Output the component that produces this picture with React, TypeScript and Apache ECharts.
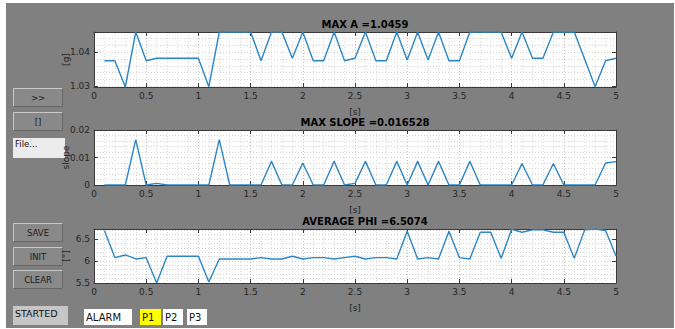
import React, { useEffect, useRef } from 'react';
import * as echarts from 'echarts';

// ---------- data ----------
const TIME = [
  0.1, 0.2, 0.3, 0.4, 0.5, 0.6, 0.7, 0.8, 0.9, 1.0,
  1.1, 1.2, 1.3, 1.4, 1.5, 1.6, 1.7, 1.8, 1.9, 2.0,
  2.1, 2.2, 2.3, 2.4, 2.5, 2.6, 2.7, 2.8, 2.9, 3.0,
  3.1, 3.2, 3.3, 3.4, 3.5, 3.6, 3.7, 3.8, 3.9, 4.0,
  4.1, 4.2, 4.3, 4.4, 4.5, 4.6, 4.7, 4.8, 4.9, 5.0,
];

const MAX_A = [
  1.0375, 1.0375, 1.0298, 1.0459, 1.0375, 1.0382, 1.0382, 1.0382, 1.0382, 1.0382,
  1.0299, 1.0459, 1.0459, 1.0459, 1.0459, 1.0375, 1.0459, 1.0459, 1.0382, 1.0459,
  1.0375, 1.0375, 1.0459, 1.0375, 1.0382, 1.0459, 1.0375, 1.0375, 1.0459, 1.0377,
  1.0459, 1.0377, 1.0459, 1.0375, 1.0375, 1.0459, 1.0459, 1.0459, 1.0459, 1.0382,
  1.0459, 1.0382, 1.0382, 1.0459, 1.0459, 1.0459, 1.0379, 1.0299, 1.0375, 1.0382,
];

const SLOPE = [
  0, 0, 0, 0.016528, 0, 0.0006, 0, 0, 0, 0,
  0, 0.0165, 0, 0, 0, 0, 0.0086, 0, 0, 0.0080,
  0, 0, 0.0086, 0, 0.0006, 0.0086, 0, 0, 0.0086, 0,
  0.0086, 0, 0.0086, 0, 0, 0.0086, 0, 0, 0, 0,
  0.0078, 0, 0, 0.0078, 0, 0, 0, 0, 0.0080, 0.0085,
];

const PHI = [
  6.695, 6.076, 6.137, 6.046, 6.076, 5.497, 6.107, 6.107, 6.107, 6.107,
  5.52, 6.046, 6.046, 6.046, 6.046, 6.076, 6.046, 6.046, 6.107, 6.046,
  6.076, 6.076, 6.046, 6.076, 6.107, 6.046, 6.076, 6.076, 6.046, 6.68,
  6.046, 6.076, 6.046, 6.68, 6.076, 6.046, 6.656, 6.656, 6.06, 6.72,
  6.656, 6.71, 6.71, 6.656, 6.656, 6.06, 6.71, 6.73, 6.695, 6.115,
];

const X_LIMITS = [0, 5];
const X_STEP = 0.5;
const A_TICKS = [1.03, 1.04];
const SLOPE_TICKS = [0, 0.01, 0.02];
const SLOPE_LIMITS = [0, 0.02];
const PHI_TICKS = [5.5, 6, 6.5];

const TITLES = ['MAX A =1.0459', 'MAX SLOPE =0.016528', 'AVERAGE PHI =6.5074'];
const Y_NAMES = ['[g]', 'slope', '[°]'];
const X_NAME = '[s]';

const SIDE_BUTTONS = ['>>', '[]', 'SAVE', 'INIT', 'CLEAR'];
const FILE_LABEL = 'File...';
const STATUS_LABEL = 'STARTED';
const FLAGS = ['ALARM', 'P1', 'P2', 'P3'];

// ---------- layout / style ----------
const FONT = 'DejaVu Sans';
const AXIS_COLOR = '#3a3a3a';
const TEXT_COLOR = '#262626';
const LINE_COLOR = '#2d86c4';
const GRID_LEFT = 94;
const GRID_WIDTH = 522;
const PANEL_LAYOUT = [
  { top: 32, height: 55 },
  { top: 130, height: 55 },
  { top: 229, height: 54 },
];
const BUTTON_POS = [
  { x: 13, y: 88 }, { x: 13, y: 112 }, { x: 13, y: 223 }, { x: 13, y: 247 }, { x: 13, y: 270 },
];
const FLAG_LAYOUT = [
  { x: 84, w: 48, fill: '#ffffff' },
  { x: 140, w: 21, fill: '#ffff00' },
  { x: 163, w: 20, fill: '#ffffff' },
  { x: 187, w: 20, fill: '#ffffff' },
];

function button(label: string, x: number, y: number, w: number, h: number) {
  return {
    type: 'group',
    x,
    y,
    children: [
      { type: 'rect', shape: { x: 0, y: 0, width: w, height: h }, style: { fill: '#898989' } },
      {
        type: 'polyline',
        shape: { points: [[0.5, h - 0.5], [0.5, 0.5], [w - 0.5, 0.5]] },
        style: { stroke: '#c8c8c8', lineWidth: 1, fill: null },
      },
      {
        type: 'polyline',
        shape: { points: [[0.5, h - 0.5], [w - 0.5, h - 0.5], [w - 0.5, 0.5]] },
        style: { stroke: '#666666', lineWidth: 1, fill: null },
      },
      {
        type: 'text',
        x: w / 2,
        y: h / 2,
        style: {
          text: label, align: 'center', verticalAlign: 'middle',
          fill: '#1a1a1a', fontSize: 8.5, fontFamily: FONT,
        },
      },
    ],
  };
}

function box(label: string, x: number, y: number, w: number, h: number, fill: string, fontSize: number, textY: number) {
  return {
    type: 'group',
    x,
    y,
    children: [
      { type: 'rect', shape: { x: 0, y: 0, width: w, height: h }, style: { fill } },
      {
        type: 'text',
        x: 2,
        y: textY,
        style: {
          text: label, align: 'left', verticalAlign: 'middle',
          fill: '#111111', fontSize, fontFamily: FONT,
        },
      },
    ],
  };
}

export default function App() {
  const ref = useRef<HTMLDivElement>(null);

  useEffect(() => {
    if (!ref.current) return;
    const chart = echarts.init(ref.current, undefined, { renderer: 'svg' });

    const panels = [
      {
        values: MAX_A, min: Math.min(...MAX_A), max: Math.max(...MAX_A),
        ticks: A_TICKS, gridSplit: 8,
      },
      {
        values: SLOPE, min: SLOPE_LIMITS[0], max: SLOPE_LIMITS[1],
        ticks: SLOPE_TICKS, gridSplit: 10,
      },
      {
        values: PHI, min: Math.min(...PHI), max: Math.max(...PHI),
        ticks: PHI_TICKS, gridSplit: 10,
      },
    ];

    const grids: any[] = [];
    const xAxes: any[] = [];
    const yAxes: any[] = [];
    const series: any[] = [];
    const graphics: any[] = [];

    panels.forEach((p, i) => {
      const lay = PANEL_LAYOUT[i];
      grids.push({
        left: GRID_LEFT, top: lay.top, width: GRID_WIDTH, height: lay.height,
        show: true, backgroundColor: '#ffffff', borderWidth: 0, containLabel: false,
      });
      // bottom x axis (data)
      xAxes.push({
        type: 'value', gridIndex: i, position: 'bottom',
        min: X_LIMITS[0], max: X_LIMITS[1], interval: X_STEP,
        name: X_NAME, nameLocation: 'middle', nameGap: 20, nameMoveOverlap: false,
        nameTextStyle: { color: TEXT_COLOR, fontSize: 9, fontFamily: FONT },
        axisLine: { show: true, onZero: false, lineStyle: { color: AXIS_COLOR, width: 1 } },
        axisTick: { show: true, inside: true, length: 4, lineStyle: { color: AXIS_COLOR } },
        axisLabel: { show: true, margin: 4, color: TEXT_COLOR, fontSize: 9, fontFamily: FONT },
        splitLine: { show: true, lineStyle: { color: '#c4c4c4', type: [1, 2], width: 1 } },
        minorTick: { show: false, splitNumber: 5 },
        minorSplitLine: { show: true, lineStyle: { color: '#dcdcdc', type: [1, 2], width: 1 } },
      });
      // top x axis (box + ticks)
      xAxes.push({
        type: 'value', gridIndex: i, position: 'top',
        min: X_LIMITS[0], max: X_LIMITS[1], interval: X_STEP,
        axisLine: { show: true, onZero: false, lineStyle: { color: AXIS_COLOR, width: 1 } },
        axisTick: { show: true, inside: true, length: 4, lineStyle: { color: AXIS_COLOR } },
        axisLabel: { show: false },
        splitLine: { show: false },
      });
      // left y axis (data)
      yAxes.push({
        type: 'value', gridIndex: i, position: 'left',
        min: p.min, max: p.max,
        name: Y_NAMES[i], nameLocation: 'middle', nameRotate: 90, nameGap: 24, nameMoveOverlap: false,
        nameTextStyle: { color: TEXT_COLOR, fontSize: 9, fontFamily: FONT },
        axisLine: { show: true, onZero: false, lineStyle: { color: AXIS_COLOR, width: 1 } },
        axisTick: { show: true, inside: true, length: 4, customValues: p.ticks, lineStyle: { color: AXIS_COLOR } },
        axisLabel: { show: true, margin: 4, customValues: p.ticks, color: TEXT_COLOR, fontSize: 9, fontFamily: FONT },
        splitLine: { show: false },
      });
      // right y axis (box + ticks)
      yAxes.push({
        type: 'value', gridIndex: i, position: 'right',
        min: p.min, max: p.max,
        axisLine: { show: true, onZero: false, lineStyle: { color: AXIS_COLOR, width: 1 } },
        axisTick: { show: true, inside: true, length: 4, customValues: p.ticks, lineStyle: { color: AXIS_COLOR } },
        axisLabel: { show: false },
        splitLine: { show: false },
      });
      // grid-line y axis (dotted minor grid)
      yAxes.push({
        type: 'value', gridIndex: i, position: 'left',
        min: p.min, max: p.max, splitNumber: p.gridSplit,
        axisLine: { show: false }, axisTick: { show: false }, axisLabel: { show: false },
        splitLine: { show: true, lineStyle: { color: '#d4d4d4', type: [1, 2], width: 1 } },
      });
      series.push({
        type: 'line',
        xAxisIndex: 2 * i,
        yAxisIndex: 3 * i,
        data: TIME.map((t, k) => [t, p.values[k]]),
        showSymbol: false,
        symbol: 'none',
        lineStyle: { color: LINE_COLOR, width: 1.4 },
        itemStyle: { color: LINE_COLOR },
        clip: true,
        z: 5,
      });
      graphics.push({
        type: 'text',
        x: 365,
        y: lay.top - 8,
        style: {
          text: TITLES[i], align: 'center', verticalAlign: 'middle',
          fill: '#000000', fontSize: 10, fontWeight: 'bold', fontFamily: FONT,
        },
      });
    });

    SIDE_BUTTONS.forEach((b, i) => {
      graphics.push(button(b, BUTTON_POS[i].x, BUTTON_POS[i].y, 50, 19));
    });
    graphics.push(box(FILE_LABEL, 13, 138, 52, 20, '#ececec', 8.5, 6));
    graphics.push(box(STATUS_LABEL, 13, 306, 55, 19, '#c6c6c6', 9.5, 7));
    FLAGS.forEach((f, i) => {
      const l = FLAG_LAYOUT[i];
      graphics.push(box(f, l.x, 309, l.w, 16, l.fill, 10, 8.5));
    });

    chart.setOption({
      animation: false,
      backgroundColor: 'transparent',
      grid: grids,
      xAxis: xAxes,
      yAxis: yAxes,
      series,
      graphic: { elements: graphics },
    });

    return () => chart.dispose();
  }, []);

  return (
    <div style={{ position: 'fixed', left: 0, top: 0, width: 675, height: 329, background: '#ffffff' }}>
      <div style={{ position: 'absolute', left: 6, top: 3, width: 668, height: 325, background: '#808080' }} />
      <div ref={ref} style={{ position: 'absolute', left: 0, top: 0, width: 675, height: 329 }} />
    </div>
  );
}
